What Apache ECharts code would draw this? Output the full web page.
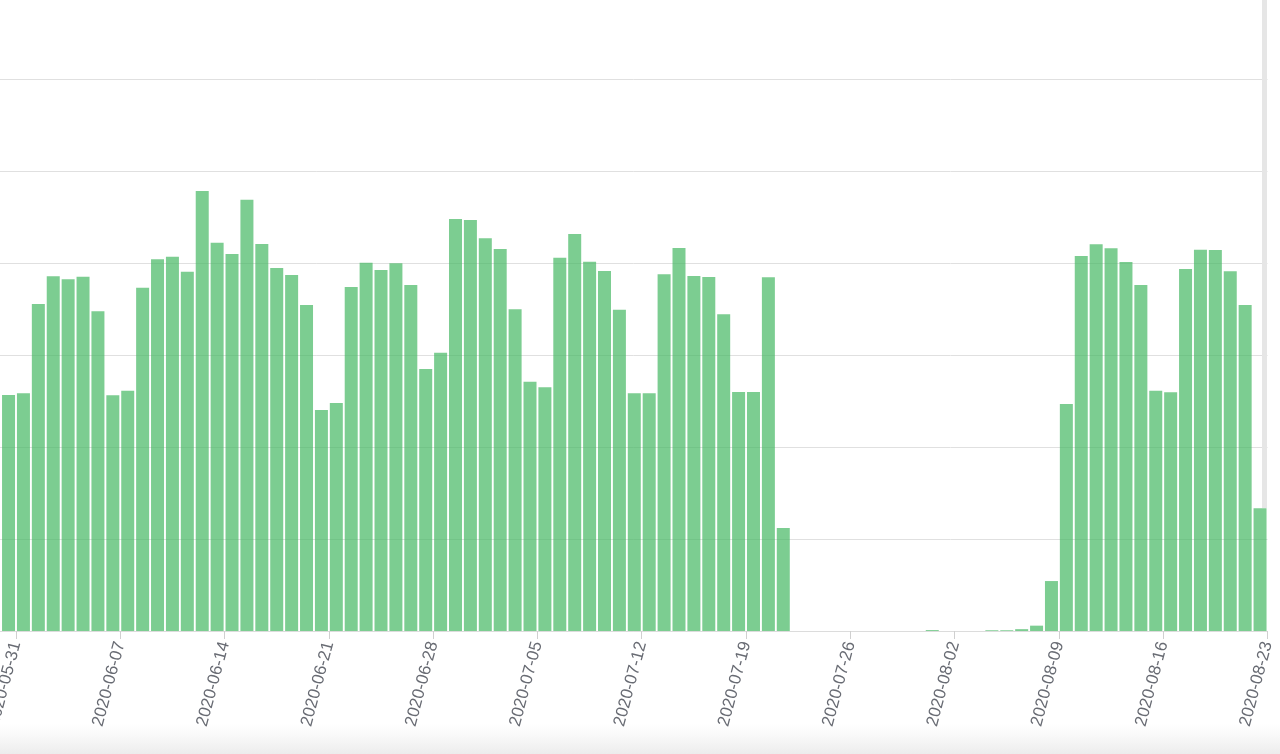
<!DOCTYPE html>
<html>
<head>
<meta charset="utf-8">
<script src="https://cdn.jsdelivr.net/npm/echarts@6/dist/echarts.min.js"></script>
<style>
  html, body { margin: 0; padding: 0; background: #ffffff; }
  #chart { width: 1280px; height: 754px; }
</style>
</head>
<body>
<div id="chart"></div>
<script>
// ---- data ----
const startDate = '2020-05-30';
const values = [
  25.65, 25.84, 35.54, 38.55, 38.23, 38.51, 34.75, 25.62, 26.12, 37.32,
  40.40, 40.68, 39.05, 47.83, 42.21, 40.98, 46.88, 42.07, 39.46, 38.70,
  35.43, 24.02, 24.78, 37.39, 40.03, 39.24, 39.97, 37.61, 28.48, 30.25,
  44.78, 44.67, 42.68, 41.52, 34.97, 27.10, 26.49, 40.58, 43.15, 40.14,
  39.13, 34.92, 25.84, 25.84, 38.77, 41.63, 38.59, 38.48, 34.42, 25.98,
  25.98, 38.45, 11.20, 0, 0, 0, 0, 0, 0, 0,
  0, 0, 0.1, 0, 0, 0, 0.08, 0.08, 0.2, 0.58,
  5.43, 24.67, 40.76, 42.03, 41.60, 40.11, 37.61, 26.12, 25.95, 39.35,
  41.45, 41.41, 39.10, 35.43, 13.34
];
const axisMinDate = '2020-05-24';
const axisMaxDate = '2020-08-23';
const yMax = 60;
const yInterval = 10;

// ---- build ----
const DAY = 86400000;
function parseUTC(s) { const p = s.split('-').map(Number); return Date.UTC(p[0], p[1] - 1, p[2]); }
function fmt(ts) {
  const d = new Date(ts);
  const mm = String(d.getUTCMonth() + 1).padStart(2, '0');
  const dd = String(d.getUTCDate()).padStart(2, '0');
  return d.getUTCFullYear() + '-' + mm + '-' + dd;
}
const start = parseUTC(startDate);
const dates = values.map((v, i) => fmt(start + i * DAY));
// each bar fills its own day: centre at the middle of the day
const seriesData = dates.map((d, i) => [parseUTC(d) + DAY / 2, values[i]]);

const chart = echarts.init(document.getElementById('chart'), null, { renderer: 'canvas' });
chart.setOption({
  animation: false,
  backgroundColor: '#ffffff',
  grid: {
    left: -88.3, right: 12.5, top: 79, bottom: 123,
    containLabel: false, outerBoundsMode: 'none'
  },
  xAxis: {
    type: 'value',
    min: parseUTC(axisMinDate),
    max: parseUTC(axisMaxDate),
    interval: 7 * DAY,
    splitLine: { show: false },
    axisLine: { show: true, lineStyle: { color: '#dcdcdc', width: 1 } },
    axisTick: { show: true, length: 8, lineStyle: { color: '#d0d0d0' } },
    axisLabel: {
      rotate: 75,
      margin: 11,
      fontSize: 17,
      color: '#686b73',
      fontFamily: 'Liberation Sans, Arial, sans-serif',
      formatter: function (v) { return fmt(v); }
    }
  },
  yAxis: {
    type: 'value',
    min: 0, max: yMax, interval: yInterval,
    axisLabel: { show: false },
    axisLine: { show: false },
    axisTick: { show: false },
    splitLine: { show: true, lineStyle: { color: '#e0e0e0', width: 1 } }
  },
  series: [{
    type: 'bar',
    data: seriesData,
    barWidth: 13,
    itemStyle: { color: 'rgba(69,184,99,0.7)' }
  }],
  graphic: [
    {
      type: 'rect', z: 1, silent: true,
      shape: { x: 1262, y: 0, width: 5, height: 508 },
      style: { fill: '#e6e6e6' }
    },
    {
      type: 'rect', z: 0, silent: true,
      shape: { x: 0, y: 724, width: 1280, height: 30 },
      style: {
        fill: new echarts.graphic.LinearGradient(0, 0, 0, 1, [
          { offset: 0, color: 'rgba(240,240,240,0)' },
          { offset: 1, color: 'rgba(236,236,236,1)' }
        ])
      }
    }
  ]
});
</script>
</body>
</html>
